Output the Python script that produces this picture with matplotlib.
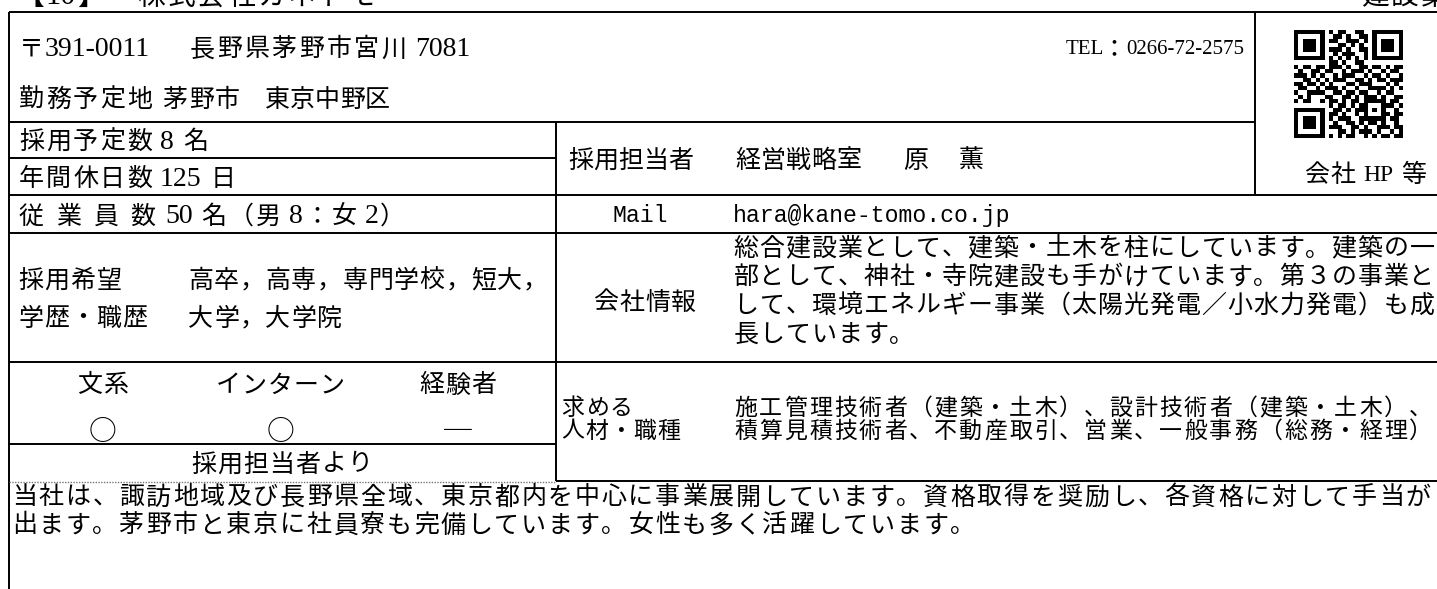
import matplotlib
matplotlib.use("Agg")
import matplotlib.pyplot as plt
import numpy as np

# ---- content of the sheet ----
title = "【10】　株式会社カネトモ"
category = "建設業"
postcode = "〒391-0011"
address = "長野県茅野市宮川 7081"
tel = ["TEL", "：", "0266-72-2575"]
workplace = ["勤務予定地", "茅野市", "東京中野区"]
hires = "採用予定数 8 名"
holidays = "年間休日数 125 日"
staff_label = ["従", "業", "員", "数"]
staff_value = "50 名（男 8：女 2）"
contact = ["採用担当者", "経営戦略室", "原", "薫"]
mail_label = "Mail"
mail = "hara@kane-tomo.co.jp"
hp_label = "会社 HP 等"
edu_label = ["採用希望", "学歴・職歴"]
edu_value = ["高卒，高専，専門学校，短大，", "大学，大学院"]
info_label = "会社情報"
info_lines = ["総合建設業として、建築・土木を柱にしています。建築の一",
              "部として、神社・寺院建設も手がけています。第３の事業と",
              "して、環境エネルギー事業（太陽光発電／小水力発電）も成",
              "長しています。"]
flags = ["文系", "インターン", "経験者"]
flag_marks = ["○", "○", "─"]
message_label = "採用担当者より"
jobs_label = ["求める", "人材・職種"]
jobs_lines = ["施工管理技術者（建築・土木）、設計技術者（建築・土木）、",
              "積算見積技術者、不動産取引、営業、一般事務（総務・経理）"]
message_lines = ["当社は、諏訪地域及び長野県全域、東京都内を中心に事業展開しています。資格取得を奨励し、各資格に対して手当が",
                 "出ます。茅野市と東京に社員寮も完備しています。女性も多く活躍しています。"]

qr_rows = [
    "1111111010110011001111111",
    "1000001001101001101000001",
    "1011101011001110101011101",
    "1011101000110101001011101",
    "1011101011101001101011101",
    "1000001001011100101000001",
    "1111111010101010101111111",
    "0000000011010011000000000",
    "1011011011101001101101011",
    "0100110110010111010010110",
    "1110101001011100101101001",
    "0011010101110011010110111",
    "1101101010001101110001010",
    "0110010111010010011110101",
    "1001111001101101100101100",
    "0101000110011010111010011",
    "1011001011010110111110110",
    "0000000010110101100011101",
    "1111111001101011101010010",
    "1000001011010010100011011",
    "1011101010111001111110110",
    "1011101001001101011010010",
    "1011101011100110100111011",
    "1000001000110101110100101",
    "1111111010101100101011011",
]

CJK = "Noto Sans CJK JP"
LAT = "Liberation Serif"
MONO = "Liberation Mono"

W, H = 1437, 589
fig = plt.figure(figsize=(W / 100, H / 100), dpi=100)
ax = fig.add_axes([0, 0, 1, 1])
ax.set_xlim(0, W)
ax.set_ylim(H, 0)
ax.axis("off")
renderer = fig.canvas.get_renderer()


def put(s, x, yc, pitch=26, gap=7, size=18, lsize=20, lfam=LAT):
    # kana/kanji on a fixed pitch, latin runs drawn whole at their own width
    base = yc + 0.38 * size * 100 / 72
    lbase = yc + 0.33 * lsize * 100 / 72
    i = 0
    while i < len(s):
        c = s[i]
        if c == " ":
            x += gap
            i += 1
        elif ord(c) < 128:
            j = i
            while j < len(s) and ord(s[j]) < 128 and s[j] != " ":
                j += 1
            t = ax.text(x, lbase, s[i:j], family=lfam, fontsize=lsize,
                        ha="left", va="baseline")
            x += t.get_window_extent(renderer).width + 1
            i = j
        else:
            if c != "　":
                ax.text(x + pitch / 2, base, c, family=CJK, fontsize=size,
                        ha="center", va="baseline")
            x += pitch
            i += 1
    return x


def put_c(s, xc, yc, pitch=26, size=18):
    put(s, xc - len(s) * pitch / 2, yc, pitch, size=size)


# ---- table rules ----
lw = 1.4
ax.hlines(12, 9, W, color="black", lw=lw)
ax.vlines(9, 12, H, color="black", lw=lw)
ax.hlines(121.5, 9, 1255, color="black", lw=lw)
ax.vlines(1255, 12, 195, color="black", lw=lw)
ax.hlines(158, 9, 556, color="black", lw=lw)
ax.hlines([195, 233, 362], 9, W, color="black", lw=lw)
ax.vlines(556, 121.5, 481, color="black", lw=lw)
ax.hlines(444, 9, 556, color="black", lw=lw)
ax.hlines(481, 556, W, color="black", lw=lw)
ax.hlines(482, 9, 556, color="#777777", lw=1.0, linestyles=(0, (1, 1)))

# ---- heading (cut by the page edge) ----
put(title, 15, -6, pitch=30, size=20, lsize=22)
put(category, 1360, -6, pitch=30, size=20)

# ---- top block ----
put(postcode, 18, 47, pitch=27)
put(address, 188, 47, pitch=27.5)
x = put(tel[0], 1066, 47, lsize=15)
x = put(tel[1], x, 47, pitch=17)
put(tel[2], x + 4, 47, lsize=15)
put(workplace[0], 18, 97.5, pitch=27)
put(workplace[1], 163, 97.5, pitch=25.5)
put(workplace[2], 265, 97.5, pitch=25)

qr = np.array([[int(ch) for ch in row] for row in qr_rows])
ax.imshow(qr, cmap="gray_r", extent=(1294, 1403, 138, 30),
          interpolation="nearest", aspect="auto")
put(hp_label, 1304, 173, pitch=26, lsize=17)

put(hires, 18, 139.5, pitch=27)
put(holidays, 18, 176.5, pitch=27)
for s, x0, p in zip(contact, [568, 735, 903, 958], [25, 25.4, 26, 26]):
    put(s, x0, 158, pitch=p)

for k, ch in enumerate(staff_label):
    put(ch, 18 + k * 37, 214, pitch=27)
put(staff_value, 165, 214, pitch=27)
put(mail_label, 612, 214, lsize=16.7, lfam=MONO)
put(mail, 733, 214, lsize=16.7, lfam=MONO)

# ---- education / company info ----
put(edu_label[0], 18, 278, pitch=26)
put(edu_label[1], 18, 316, pitch=26)
put(edu_value[0], 188, 278, pitch=25.7)
put(edu_value[1], 188, 316, pitch=25.7)
put_c(info_label, 645, 300, pitch=26)
for k, line in enumerate(info_lines):
    put(line, 733, 246 + k * 28.7, pitch=26)

# ---- flags / jobs ----
for xc, lab, mark in zip([103, 280, 458], flags, flag_marks):
    put_c(lab, xc, 383, pitch=26)
    put_c(mark, xc, 429, pitch=26, size=20)
put_c(message_label, 282, 462, pitch=26)
put(jobs_label[0], 561, 406, pitch=24, size=16.5)
put(jobs_label[1], 561, 429, pitch=24, size=16.5)
for k, line in enumerate(jobs_lines):
    put(line, 733, 406 + k * 23, pitch=25, size=16.5)

# ---- message ----
for k, line in enumerate(message_lines):
    put(line, 11, 495 + k * 28, pitch=26.8)

ax.set_xlim(0, W)
ax.set_ylim(H, 0)
fig.savefig("out.png", dpi=100, facecolor="white")
